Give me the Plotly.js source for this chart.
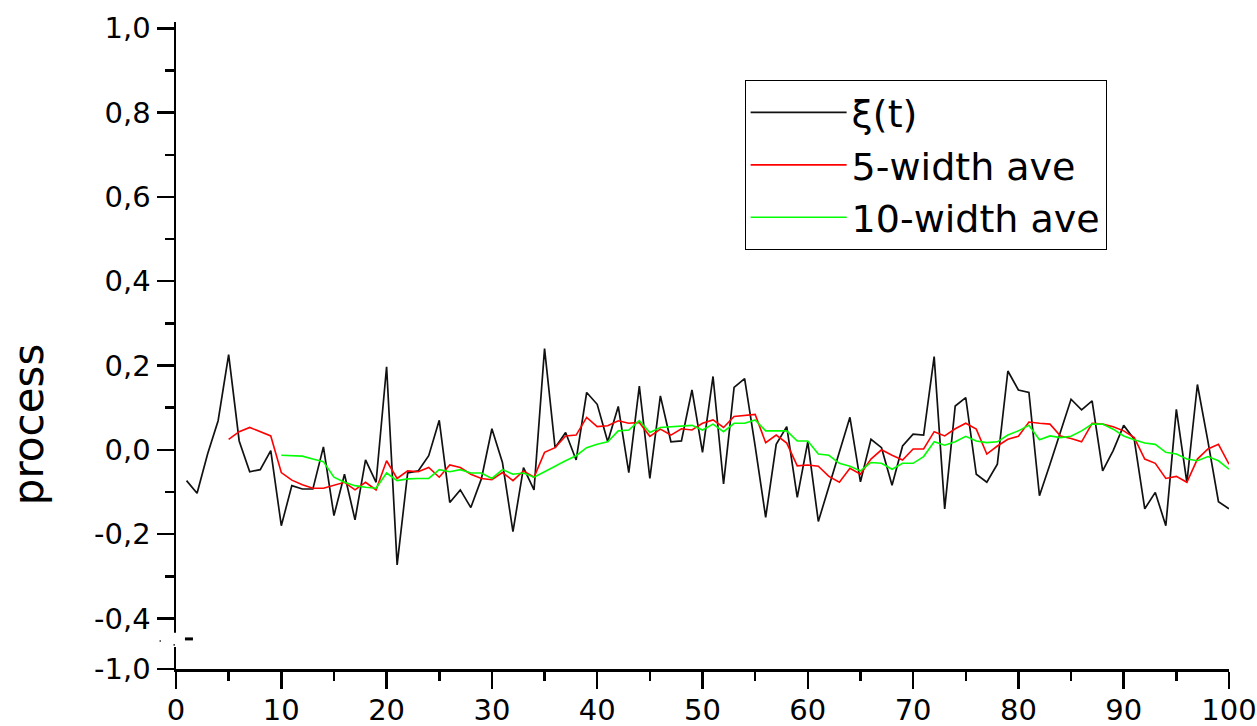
<!DOCTYPE html>
<html>
<head>
<meta charset="utf-8">
<script src="https://cdn.plot.ly/plotly-3.0.1.min.js"></script>
<style>html,body{margin:0;padding:0;background:#fff;}#chart{width:1257px;height:726px;}</style>
</head>
<body>
<div id="chart"></div>
<script>
// t = 1..100
const xiValues = [-0.073,-0.103,-0.010,0.069,0.226,0.021,-0.052,-0.047,-0.002,-0.180,
  -0.085,-0.093,-0.093,0.007,-0.156,-0.058,-0.166,-0.024,-0.077,0.197,
  -0.273,-0.055,-0.050,-0.014,0.070,-0.125,-0.095,-0.137,-0.069,0.050,
  -0.030,-0.194,-0.042,-0.095,0.240,0.005,0.041,-0.024,0.136,0.108,
  0.019,0.103,-0.054,0.151,-0.068,0.128,0.019,0.021,0.142,-0.006,
  0.174,-0.081,0.148,0.169,0.009,-0.160,0.013,0.055,-0.113,0.019,
  -0.170,-0.089,-0.010,0.077,-0.076,0.025,0.005,-0.084,0.009,0.037,
  0.035,0.221,-0.140,0.104,0.124,-0.058,-0.077,-0.034,0.187,0.142,
  0.136,-0.109,-0.034,0.041,0.120,0.095,0.116,-0.050,-0.002,0.058,
  0.025,-0.140,-0.101,-0.180,0.096,-0.077,0.155,0.020,-0.123,-0.140];
// t = 5..100
const ave5Values = [0.025,0.043,0.053,0.043,0.033,-0.054,-0.072,-0.083,-0.091,-0.091,
  -0.084,-0.077,-0.095,-0.077,-0.095,-0.026,-0.068,-0.050,-0.052,-0.042,
  -0.065,-0.036,-0.042,-0.058,-0.068,-0.071,-0.054,-0.073,-0.050,-0.065,
  -0.006,0.005,0.033,0.035,0.077,0.055,0.057,0.069,0.063,0.065,
  0.032,0.049,0.035,0.050,0.047,0.063,0.071,0.053,0.079,0.082,
  0.084,0.017,0.035,0.016,-0.038,-0.036,-0.039,-0.063,-0.077,-0.044,
  -0.058,-0.022,0.000,-0.013,-0.024,0.002,0.002,0.043,0.033,0.050,
  0.063,0.049,-0.010,0.009,0.025,0.032,0.066,0.063,0.061,0.033,
  0.027,0.019,0.063,0.061,0.055,0.045,0.029,-0.022,-0.032,-0.068,
  -0.063,-0.077,-0.022,0.002,0.013,-0.034];
// t = 10..100
const ave10Values = [-0.013,-0.014,-0.015,-0.022,-0.028,-0.065,-0.077,-0.085,-0.089,-0.091,
  -0.055,-0.073,-0.069,-0.068,-0.068,-0.047,-0.052,-0.047,-0.055,-0.055,
  -0.068,-0.047,-0.058,-0.055,-0.065,-0.052,-0.038,-0.026,-0.014,0.005,
  0.013,0.019,0.045,0.047,0.069,0.041,0.053,0.055,0.057,0.058,
  0.047,0.061,0.043,0.063,0.063,0.071,0.045,0.045,0.045,0.021,
  0.021,-0.010,-0.013,-0.032,-0.039,-0.050,-0.030,-0.032,-0.046,-0.032,
  -0.032,-0.016,0.019,0.011,0.019,0.032,0.021,0.017,0.019,0.035,
  0.045,0.058,0.024,0.033,0.029,0.032,0.045,0.061,0.061,0.049,
  0.033,0.024,0.016,0.013,-0.006,-0.010,-0.022,-0.026,-0.016,-0.026,
  -0.046];
const seriesNames = ["ξ(t)", "5-width ave", "10-width ave"];
const yTitle = "process";
// y axis has a break: the bottom tick (-1,0) sits just below -0,4
const yTickVals = [-0.52,-0.4,-0.2,0,0.2,0.4,0.6,0.8,1.0];
const yTickText = ["-1,0","-0,4","-0,2","0,0","0,2","0,4","0,6","0,8","1,0"];
const yMinorVals = [-0.3,-0.1,0.1,0.3,0.5,0.7,0.9];
const xTickVals = [0,10,20,30,40,50,60,70,80,90,100];
const xMinorVals = [5,15,25,35,45,55,65,75,85,95];

function range(a, n){ const r=[]; for(let i=0;i<n;i++) r.push(a+i); return r; }

const traces = [
  {x: range(1, xiValues.length), y: xiValues, name: seriesNames[0],
   mode:'lines', line:{color:'#111111', width:1.7}},
  {x: range(5, ave5Values.length), y: ave5Values, name: seriesNames[1],
   mode:'lines', line:{color:'#ff0000', width:1.6}},
  {x: range(10, ave10Values.length), y: ave10Values, name: seriesNames[2],
   mode:'lines', line:{color:'#00ff00', width:1.6}}
];

const fam = '"DejaVu Sans", "Liberation Sans", Arial, sans-serif';
const tickFont = {family:fam, size:29, color:'#000'};
const legendFont = {family:fam, size:38, color:'#000'};
const titleFont = {family:fam, size:42, color:'#000'};
const layout = {
  width:1257, height:726,
  margin:{l:176, r:28, t:22, b:57, pad:0},
  paper_bgcolor:'#fff', plot_bgcolor:'#fff',
  font: tickFont,
  showlegend:true,
  legend:{x:0.54, y:0.91, xanchor:'left', yanchor:'top', bgcolor:'#fff',
    bordercolor:'#000', borderwidth:1, font:legendFont, tracegroupgap:0, itemwidth:96},
  xaxis:{range:[0,100], showgrid:false, zeroline:false, showline:true, linecolor:'#000', linewidth:2.5,
    ticks:'outside', ticklen:17, tickwidth:2.5, tickcolor:'#000', tickmode:'array', tickvals:xTickVals,
    minor:{tickmode:'array', tickvals:xMinorVals, ticks:'outside', ticklen:9, tickwidth:2.5, tickcolor:'#000', showgrid:false},
    tickfont:tickFont, ticklabelstandoff:-3, fixedrange:true},
  yaxis:{range:[-0.52,1.015], showgrid:false, zeroline:false, showline:true, linecolor:'#000', linewidth:2.5,
    ticks:'outside', ticklen:17, tickwidth:2.5, tickcolor:'#000', tickmode:'array', tickvals:yTickVals, ticktext:yTickText,
    minor:{tickmode:'array', tickvals:yMinorVals, ticks:'outside', ticklen:9, tickwidth:2.5, tickcolor:'#000', showgrid:false},
    tickfont:tickFont, fixedrange:true},
  annotations:[
    {text:yTitle, xref:'paper', yref:'paper', x:-0.1405, y:0.377, xanchor:'center', yanchor:'middle',
     textangle:-90, showarrow:false, font:titleFont}
  ],
  shapes:[
    {type:'rect', xref:'paper', yref:'paper', x0:-0.008, x1:0.006, y0:0.034, y1:0.056, fillcolor:'#fff', line:{width:0}, layer:'above'},
    {type:'line', xref:'paper', yref:'paper', x0:0.0085, x1:0.0161, y0:0.0465, y1:0.0465, line:{color:'#000', width:3}, layer:'above'},
    {type:'circle', xref:'paper', yref:'paper', x0:-0.0158, x1:-0.0142, y0:0.0420, y1:0.0445, fillcolor:'#000', line:{width:0}, layer:'above'},
    {type:'circle', xref:'paper', yref:'paper', x0:-0.0025, x1:-0.0010, y0:0.0360, y1:0.0385, fillcolor:'#000', line:{width:0}, layer:'above'}
  ]
};
Plotly.newPlot('chart', traces, layout, {displayModeBar:false, staticPlot:true});
</script>
</body>
</html>
